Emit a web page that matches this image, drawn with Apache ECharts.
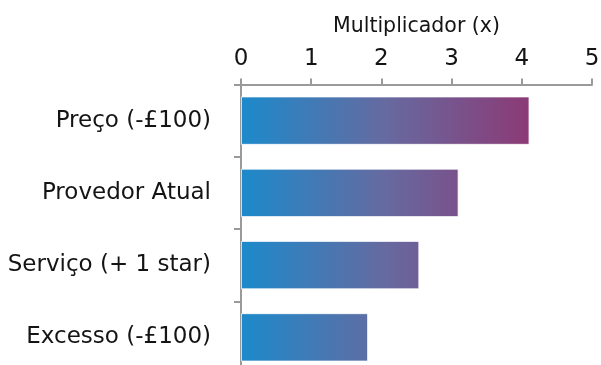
<!DOCTYPE html>
<html>
<head>
<meta charset="utf-8">
<script src="https://cdn.jsdelivr.net/npm/echarts@6/dist/echarts.min.js"></script>
<style>
html,body{margin:0;padding:0;background:#fff;}
#c{width:601px;height:365px;}
</style>
</head>
<body>
<div id="c"></div>
<script>
const categories = ['Preço (-£100)', 'Provedor Atual', 'Serviço (+ 1 star)', 'Excesso (-£100)'];
const values = [4.11, 3.10, 2.54, 1.81];
const xTicks = [0, 1, 2, 3, 4, 5];
const axisTitle = 'Multiplicador (x)';

const FONT = '"DejaVu Sans", sans-serif';
const chart = echarts.init(document.getElementById('c'), null, {renderer: 'canvas'});

function makeOption(x0, x1) {
  return {
    animation: false,
    grid: {left: 241, top: 84.5, width: 351, height: 289, containLabel: false, outerBoundsMode: 'none'},
    xAxis: {
      type: 'value', position: 'top',
      min: xTicks[0], max: xTicks[xTicks.length - 1], interval: 1,
      name: axisTitle, nameLocation: 'middle', nameGap: 47,
      nameTextStyle: {fontFamily: FONT, fontSize: 20.5, color: '#141414'},
      axisLine: {show: true, lineStyle: {color: '#9a9a9a', width: 2}},
      axisTick: {show: true, length: 6, lineStyle: {color: '#9a9a9a', width: 2}},
      axisLabel: {fontFamily: FONT, fontSize: 23, color: '#141414', margin: 14},
      splitLine: {show: false}
    },
    yAxis: {
      type: 'category', data: categories, inverse: true,
      axisLine: {show: true, lineStyle: {color: '#9a9a9a', width: 2}},
      axisTick: {show: true, length: 7, lineStyle: {color: '#9a9a9a', width: 2}},
      axisLabel: {fontFamily: FONT, fontSize: 23, color: '#141414', margin: 30}
    },
    series: [{
      type: 'bar', data: values, barCategoryGap: '33%',
      itemStyle: {
        color: new echarts.graphic.LinearGradient(x0, 0, x1, 0, [
          {offset: 0, color: '#1c8acb'},
          {offset: 0.5, color: '#666aa0'},
          {offset: 1, color: '#8c3a76'}
        ], true),
        borderColor: 'rgba(255,255,255,0.45)', borderWidth: 1
      }
    }]
  };
}
chart.setOption(makeOption(241, 530));
const px0 = chart.convertToPixel({xAxisIndex: 0}, 0);
const px1 = chart.convertToPixel({xAxisIndex: 0}, Math.max(...values));
chart.setOption(makeOption(px0, px1));
</script>
</body>
</html>
